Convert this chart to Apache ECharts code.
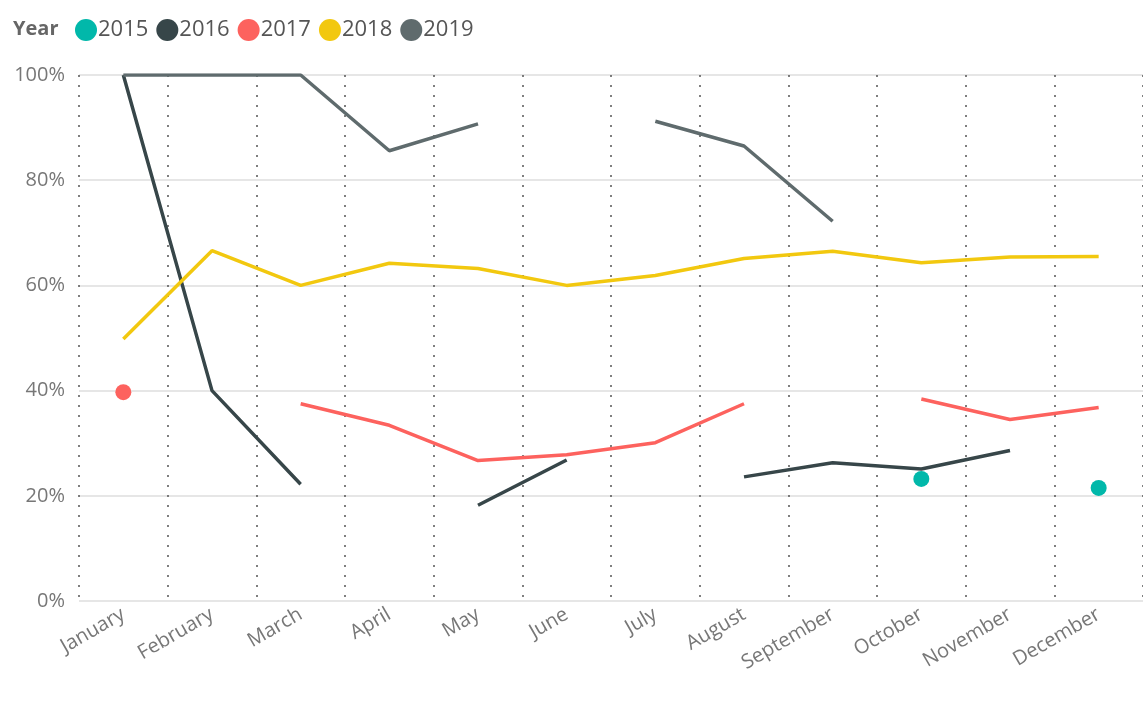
<!DOCTYPE html>
<html>
<head>
<meta charset="utf-8">
<script src="https://cdn.jsdelivr.net/npm/echarts@6/dist/echarts.min.js"></script>
<style>html,body{margin:0;padding:0;background:#fff}#chart{width:1143px;height:701px}</style>
</head>
<body>
<div id="chart"></div>
<script>
var months = ['January','February','March','April','May','June','July','August','September','October','November','December'];
var yTicks = [0, 20, 40, 60, 80, 100];
var s2015 = [null, null, null, null, null, null, null, null, null, 23.2, null, 21.5];
var s2016 = [100, 40, 22.2, null, 18.2, 26.8, null, 23.6, 26.3, 25.1, 28.6, null];
var s2017 = [39.7, null, 37.5, 33.4, 26.7, 27.8, 30.1, 37.5, null, 38.4, 34.5, 36.8];
var s2018 = [49.8, 66.6, 60, 64.2, 63.2, 60, 61.9, 65.1, 66.5, 64.3, 65.4, 65.5];
var s2019 = [100, 100, 100, 85.6, 90.7, null, 91.2, 86.5, 72.2, null, null, null];

var chart = echarts.init(document.getElementById('chart'));

function mk(name, data, color) {
    return {
        name: name,
        type: 'line',
        data: data,
        showSymbol: true,
        symbol: 'circle',
        symbolSize: function (val, p) {
            var i = p.dataIndex;
            var prev = i > 0 ? data[i - 1] : null;
            var next = i < data.length - 1 ? data[i + 1] : null;
            return (prev == null && next == null) ? 16 : 0;
        },
        lineStyle: {width: 3.5, color: color},
        itemStyle: {color: color},
        emphasis: {disabled: true}
    };
}

option = {
    animation: false,
    title: {
        text: 'Year', left: 8, top: 14,
        textStyle: {fontSize: 20, fontWeight: 'bold', color: '#666', fontFamily: 'Open Sans'}
    },
    legend: {
        left: 70, top: 14, itemGap: 8,
        icon: 'circle', itemWidth: 22, itemHeight: 22,
        textStyle: {fontSize: 22, color: '#555', fontFamily: 'Open Sans', padding: [0, 0, 0, -4]},
        data: ['2015', '2016', '2017', '2018', '2019']
    },
    grid: {left: 79, right: -8, top: 75, bottom: 100},
    xAxis: {
        type: 'category',
        data: months,
        axisLine: {show: false},
        axisTick: {show: false},
        axisLabel: {rotate: 30, fontSize: 20, color: '#777', fontFamily: 'Open Sans', margin: 12},
        splitLine: {show: true, lineStyle: {type: [2, 8], color: '#555', width: 1.5}}
    },
    yAxis: {
        type: 'value', min: 0, max: 100, interval: 20,
        axisLabel: {
            fontSize: 20, color: '#777', fontFamily: 'Open Sans', margin: 14,
            formatter: function (v) { return yTicks.indexOf(v) >= 0 ? v + '%' : ''; }
        },
        splitLine: {lineStyle: {color: '#e6e6e6', width: 2}}
    },
    series: [
        mk('2015', s2015, '#01B8AA'),
        mk('2016', s2016, '#374649'),
        mk('2017', s2017, '#FD625E'),
        mk('2018', s2018, '#F2C80F'),
        mk('2019', s2019, '#5F6B6D')
    ]
};
chart.setOption(option);
</script>
</body>
</html>
